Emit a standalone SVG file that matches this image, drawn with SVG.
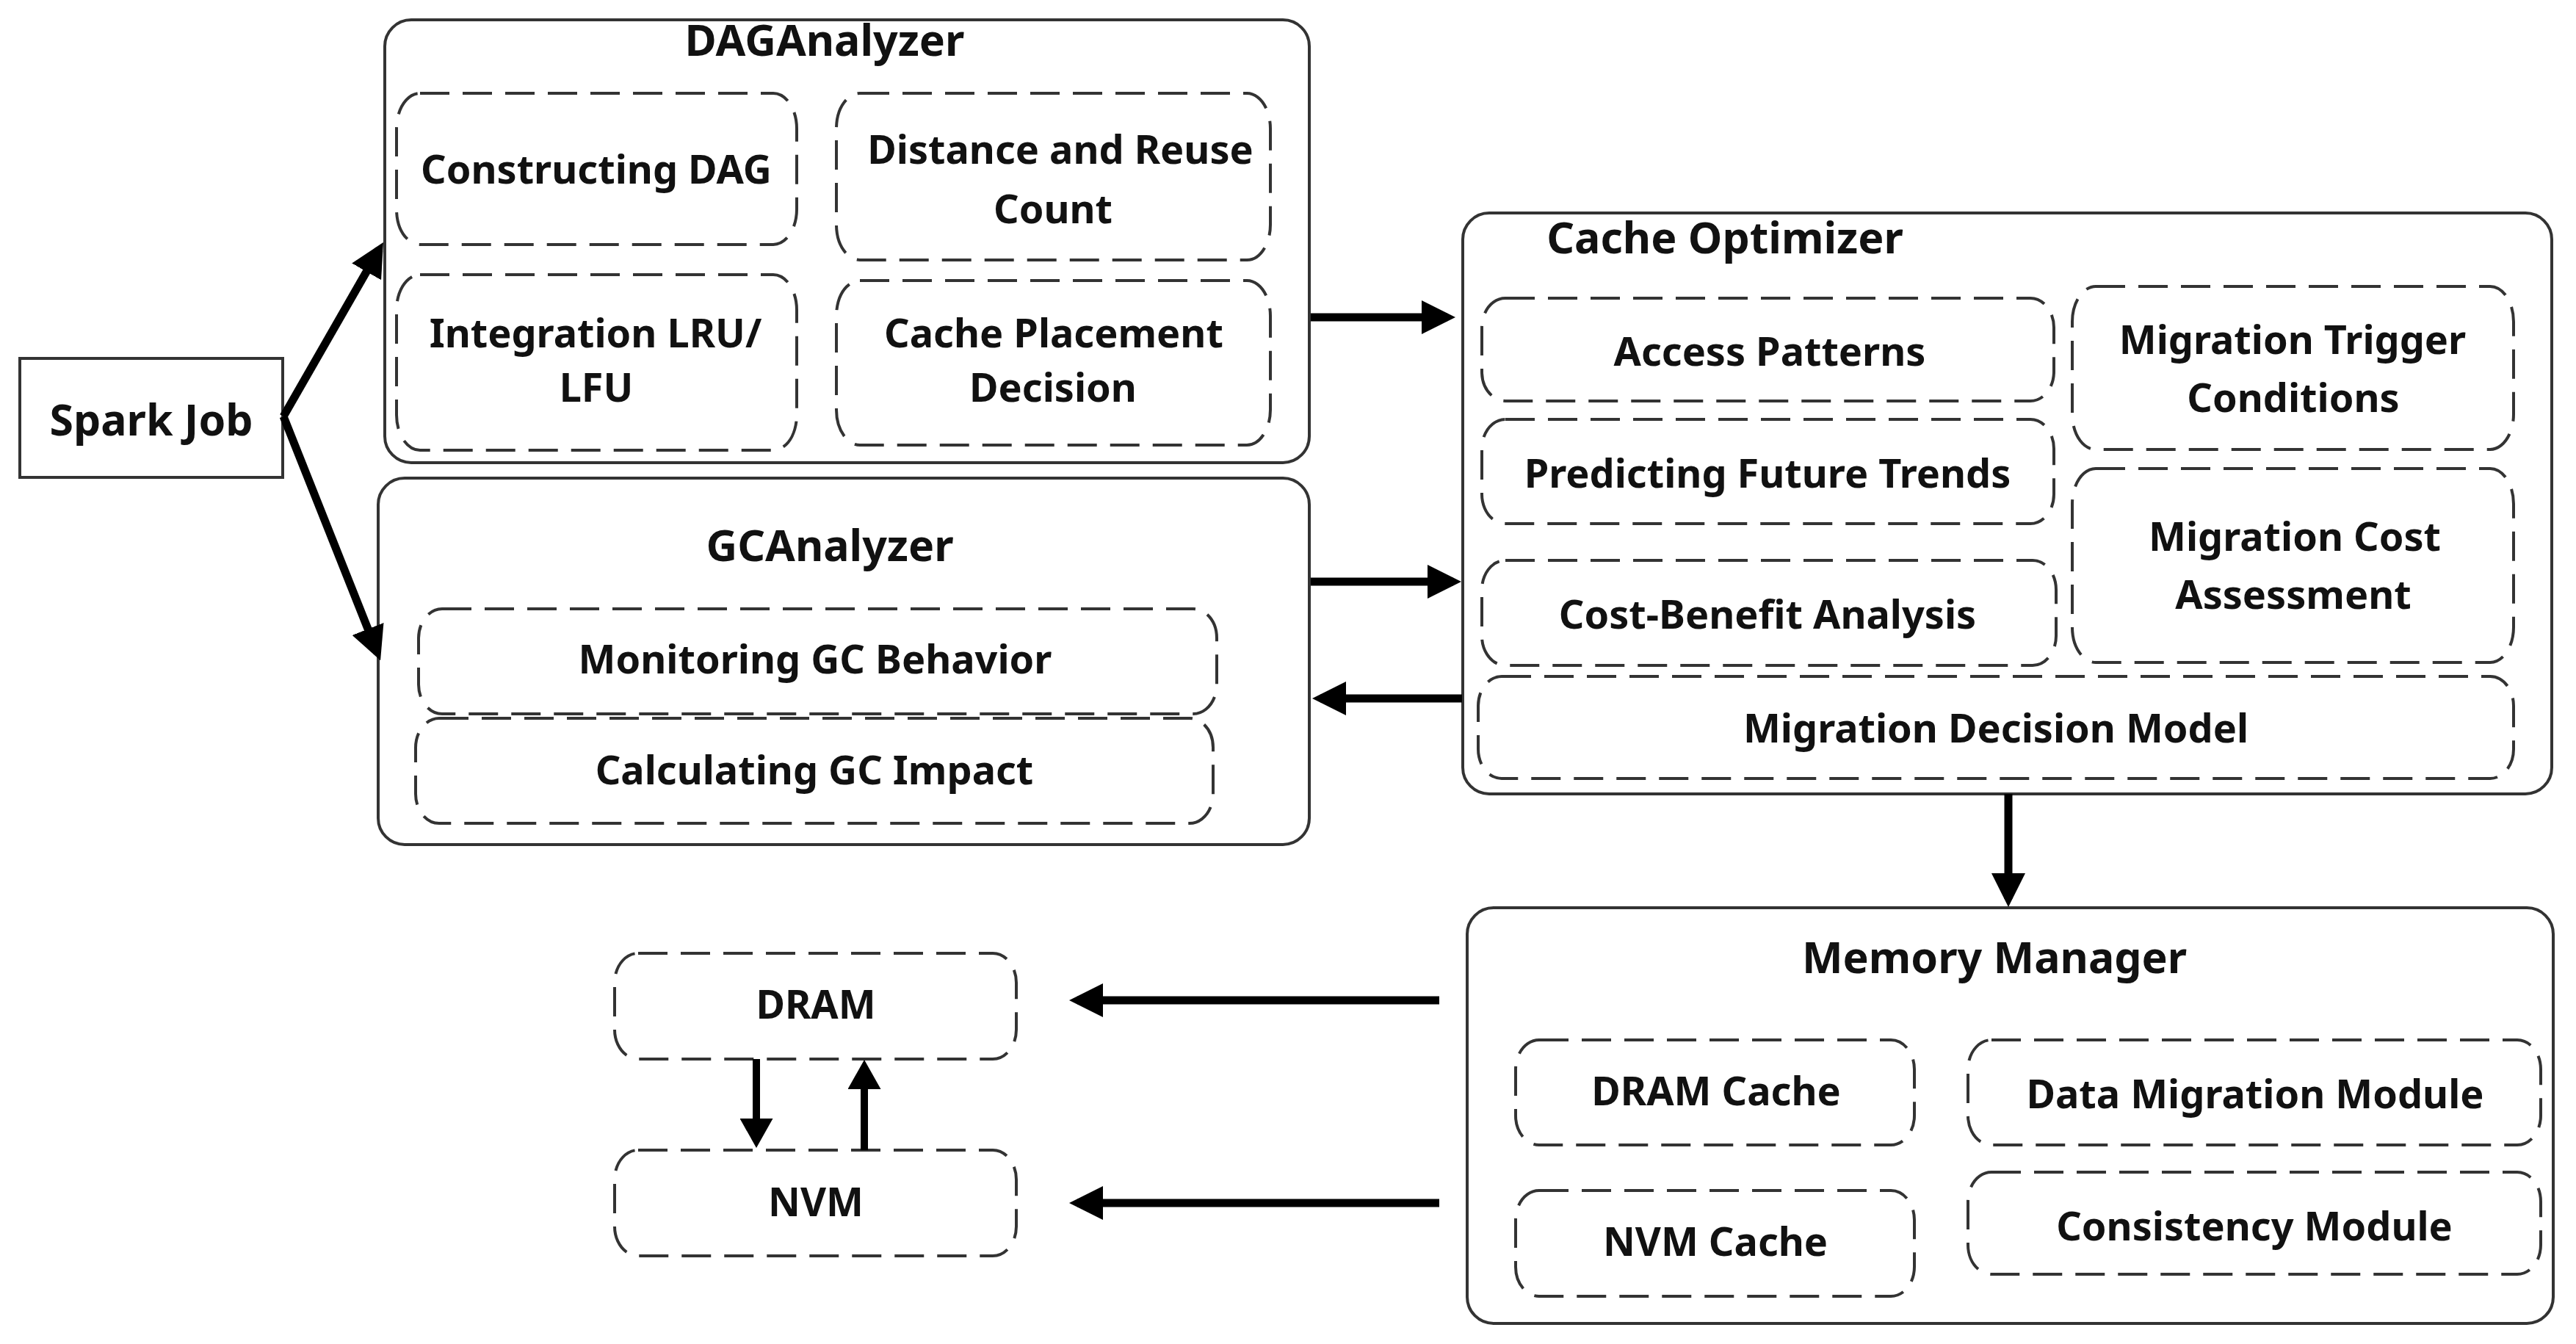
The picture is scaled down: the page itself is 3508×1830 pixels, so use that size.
<svg xmlns="http://www.w3.org/2000/svg" width="3508" height="1830" viewBox="0 0 3508 1830">
<style>
.outer{fill:#fff;stroke:#333;stroke-width:4}
.sub{fill:none;stroke:#333;stroke-width:4;stroke-dasharray:40 18}
.t{font-family:"Noto Sans","Open Sans","DejaVu Sans",sans-serif;font-weight:bold;fill:#111;text-anchor:middle;font-size:54px}
.ti{font-size:59px}
.c{stroke:#000;stroke-width:11;fill:none}
.c2{stroke:#000;stroke-width:10;fill:none}
</style>
<defs>
<marker id="ah" markerUnits="userSpaceOnUse" markerWidth="46" markerHeight="46" refX="35" refY="23" orient="auto">
<path d="M0,0 L46,23 L0,46 z" fill="#000"/>
</marker>
<marker id="ah2" markerUnits="userSpaceOnUse" markerWidth="40" markerHeight="45" refX="31" refY="22.5" orient="auto">
<path d="M0,0 L40,22.5 L0,45 z" fill="#000"/>
</marker>
</defs>
<rect width="3508" height="1830" fill="#fff"/>

<g id="spark-job">
<rect x="27" y="488" width="358" height="162" fill="#fff" stroke="#333" stroke-width="4"/>
<text class="t ti" x="206" y="593">Spark Job</text>
</g>

<g id="dag-analyzer">
<rect class="outer" x="524" y="27" width="1259" height="603" rx="36"/>
<text class="t ti" x="1123" y="76">DAGAnalyzer</text>
<g id="constructing-dag">
<rect class="sub" x="540" y="127" width="545" height="206" rx="32" ry="48"/>
<text class="t" x="812" y="250">Constructing DAG</text>
</g>
<g id="distance-reuse">
<rect class="sub" x="1139" y="127" width="591" height="227" rx="32" ry="48"/>
<text class="t" x="1444" y="223">Distance and Reuse</text>
<text class="t" x="1434" y="304">Count</text>
</g>
<g id="integration-lru">
<rect class="sub" x="540" y="374" width="545" height="239" rx="32" ry="48"/>
<text class="t" x="811" y="473">Integration LRU/</text>
<text class="t" x="812" y="547">LFU</text>
</g>
<g id="cache-placement">
<rect class="sub" x="1139" y="382" width="591" height="224" rx="32" ry="48"/>
<text class="t" x="1435" y="473">Cache Placement</text>
<text class="t" x="1434" y="547">Decision</text>
</g>
</g>

<g id="gc-analyzer">
<rect class="outer" x="515" y="651" width="1268" height="499" rx="36"/>
<text class="t ti" x="1130" y="764">GCAnalyzer</text>
<g id="monitoring-gc">
<rect class="sub" x="570" y="829" width="1087" height="143" rx="32" ry="40"/>
<text class="t" x="1110" y="917">Monitoring GC Behavior</text>
</g>
<g id="calculating-gc">
<rect class="sub" x="566" y="978" width="1086" height="143" rx="32" ry="40"/>
<text class="t" x="1109" y="1068">Calculating GC Impact</text>
</g>
</g>

<g id="cache-optimizer">
<rect class="outer" x="1992" y="290" width="1483" height="791" rx="36"/>
<text class="t ti" x="2349" y="345">Cache Optimizer</text>
<g id="access-patterns">
<rect class="sub" x="2018" y="406" width="779" height="140" rx="32" ry="40"/>
<text class="t" x="2410" y="498">Access Patterns</text>
</g>
<g id="predicting-trends">
<rect class="sub" x="2018" y="571" width="779" height="142" rx="32" ry="40"/>
<text class="t" x="2407" y="664">Predicting Future Trends</text>
</g>
<g id="cost-benefit">
<rect class="sub" x="2018" y="763" width="782" height="143" rx="32" ry="40"/>
<text class="t" x="2407" y="856">Cost-Benefit Analysis</text>
</g>
<g id="migration-trigger">
<rect class="sub" x="2822" y="390" width="601" height="222" rx="32" ry="48"/>
<text class="t" x="3122" y="482">Migration Trigger</text>
<text class="t" x="3123" y="561">Conditions</text>
</g>
<g id="migration-cost">
<rect class="sub" x="2822" y="638" width="601" height="264" rx="32" ry="48"/>
<text class="t" x="3125" y="750">Migration Cost</text>
<text class="t" x="3123" y="829">Assessment</text>
</g>
<g id="migration-decision">
<rect class="sub" x="2013" y="921" width="1410" height="139" rx="32" ry="40"/>
<text class="t" x="2718" y="1011">Migration Decision Model</text>
</g>
</g>

<g id="memory-manager">
<rect class="outer" x="1998" y="1236" width="1479" height="566" rx="36"/>
<text class="t ti" x="2716" y="1325">Memory Manager</text>
<g id="dram-cache">
<rect class="sub" x="2064" y="1416" width="543" height="143" rx="32" ry="40"/>
<text class="t" x="2337" y="1505">DRAM Cache</text>
</g>
<g id="data-migration">
<rect class="sub" x="2680" y="1416" width="780" height="143" rx="32" ry="40"/>
<text class="t" x="3071" y="1509">Data Migration Module</text>
</g>
<g id="nvm-cache">
<rect class="sub" x="2064" y="1621" width="543" height="144" rx="32" ry="40"/>
<text class="t" x="2336" y="1710">NVM Cache</text>
</g>
<g id="consistency">
<rect class="sub" x="2680" y="1596" width="780" height="139" rx="32" ry="40"/>
<text class="t" x="3070" y="1689">Consistency Module</text>
</g>
</g>

<g id="dram">
<rect class="sub" x="837" y="1298" width="547" height="144" rx="32" ry="40"/>
<text class="t" x="1111" y="1387">DRAM</text>
</g>
<g id="nvm">
<rect class="sub" x="837" y="1566" width="547" height="144" rx="32" ry="40"/>
<text class="t" x="1111" y="1656">NVM</text>
</g>

<g id="connectors">
<path class="c" d="M386,567 L516.5,339.5" marker-end="url(#ah)"/>
<path class="c" d="M386,567 L514,889" marker-end="url(#ah)"/>
<path class="c" d="M1785,432 L1971,432" marker-end="url(#ah)"/>
<path class="c" d="M1785,792 L1979,792" marker-end="url(#ah)"/>
<path class="c" d="M1991,951 L1798,951" marker-end="url(#ah)"/>
<path class="c" d="M2735,1081 L2735,1224" marker-end="url(#ah)"/>
<path class="c" d="M1960,1362 L1467,1362" marker-end="url(#ah)"/>
<path class="c" d="M1960,1638 L1467,1638" marker-end="url(#ah)"/>
<path class="c2" d="M1030,1442 L1030,1554" marker-end="url(#ah2)"/>
<path class="c2" d="M1177,1566 L1177,1452" marker-end="url(#ah2)"/>
</g>
</svg>
